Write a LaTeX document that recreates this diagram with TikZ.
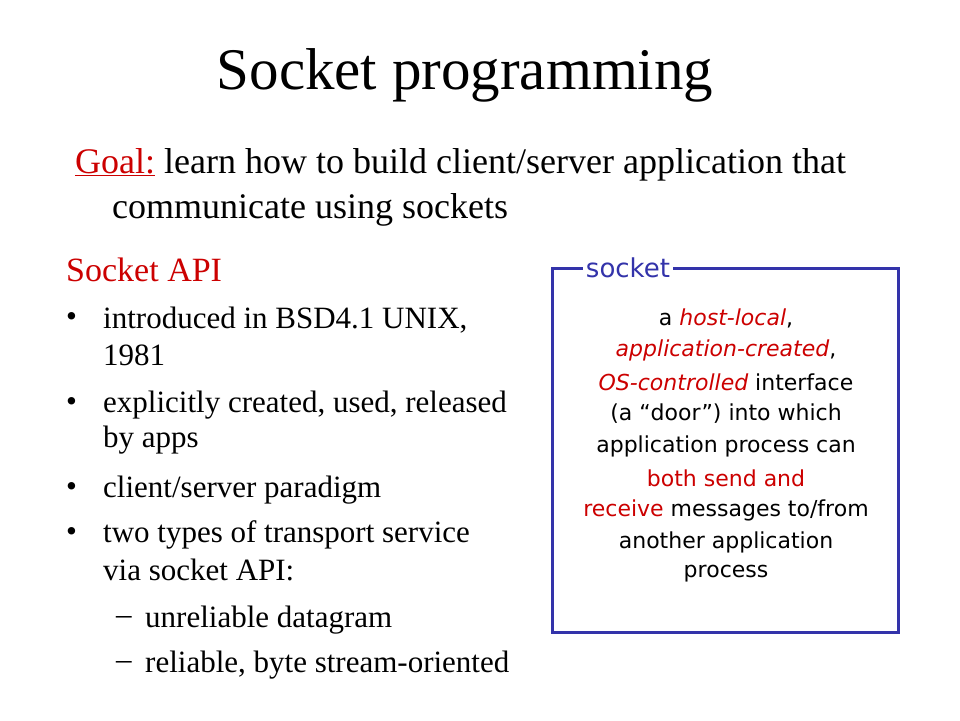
\documentclass[tikz,border=0pt]{standalone}
\usepackage{fontspec}
\setmainfont{Liberation Serif}
\newfontfamily\boxfont{DejaVu Sans}
\definecolor{slidered}{RGB}{204,0,0}
\definecolor{slideblue}{RGB}{51,51,170}
\tikzset{
  bullettext/.style={anchor=west, font=\fontsize{31}{34}\selectfont, inner sep=0},
  boxline/.style={font=\boxfont\fontsize{22}{26}\selectfont, inner sep=0},
}
\begin{document}
\begin{tikzpicture}[x=1pt,y=1pt]
\useasboundingbox[fill=white] (0,0) rectangle (960,-720);
% title and goal
\node[font=\fontsize{59}{64}\selectfont] (title) at (465,-75) {Socket programming};
\node[anchor=west, font=\fontsize{36}{40}\selectfont, inner sep=0] (goal) at (75,-165)
  {\textcolor{slidered}{\underline{Goal:}} learn how to build client/server application that};
\node[anchor=west, font=\fontsize{36}{40}\selectfont, inner sep=0] (goal2) at (112,-210)
  {communicate using sockets};
% socket api list
\node[anchor=west, font=\fontsize{34}{38}\selectfont, inner sep=0, text=slidered] (api) at (66,-270) {Socket API};
\foreach \y in {320,405,490,535}
  \node[bullettext] at (66,-\y) {\textbullet};
\node[bullettext] (b1) at (103,-320) {introduced in BSD4.1 UNIX,};
\node[bullettext] (b1b) at (103,-355) {1981};
\node[bullettext] (b2) at (103,-405) {explicitly created, used, released};
\node[bullettext] (b2b) at (103,-440) {by apps};
\node[bullettext] (b3) at (103,-490) {client/server paradigm};
\node[bullettext] (b4) at (103,-535) {two types of transport service};
\node[bullettext] (b4b) at (103,-570) {via socket API:};
\node[bullettext] at (116,-620) {--};
\node[bullettext] at (116,-665) {--};
\node[bullettext] (d1) at (145,-620) {unreliable datagram};
\node[bullettext] (d2) at (145,-665) {reliable, byte stream-oriented};
% socket box
\draw[slideblue, line width=3pt] (552,-268) rectangle (898,-632);
\node[fill=white, text=slideblue, font=\boxfont\fontsize{26}{30}\selectfont, inner sep=3pt] (sock) at (628,-268) {socket};
\node[boxline] (l1) at (726,-318) {a \textcolor{slidered}{\itshape host-local},};
\node[boxline] (l2) at (726,-350) {\textcolor{slidered}{\itshape application-created},};
\node[boxline] (l3) at (726,-382) {\textcolor{slidered}{\itshape OS-controlled} interface};
\node[boxline] (l4) at (726,-414) {(a “door”) into which};
\node[boxline] (l5) at (726,-446) {application process can};
\node[boxline] (l6) at (726,-478) {\textcolor{slidered}{both send and}};
\node[boxline] (l7) at (726,-510) {\textcolor{slidered}{receive} messages to/from};
\node[boxline] (l8) at (726,-542) {another application};
\node[boxline] (l9) at (726,-574) {process};
\end{tikzpicture}
\end{document}
